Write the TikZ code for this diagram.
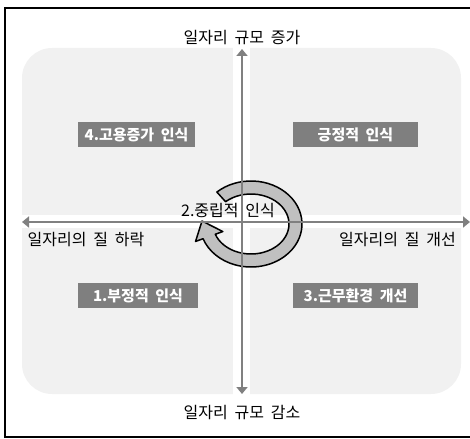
\documentclass[tikz,border=0pt]{standalone}
\usepackage{fontspec}
\setmainfont{Noto Sans CJK KR}[WordSpace=1.9]
\usetikzlibrary{arrows.meta}
\definecolor{panelbg}{RGB}{241,241,241}
\definecolor{axisgrey}{RGB}{128,128,128}
\definecolor{boxgrey}{RGB}{127,127,127}
\definecolor{ringfill}{RGB}{192,192,192}
\tikzset{
  axisarrow/.style={draw=axisgrey, line width=2.4pt, {Triangle[length=7pt,width=11pt]}-{Triangle[length=7pt,width=11pt]}},
  axislabel/.style={inner sep=0pt, font=\fontsize{16}{18}\selectfont, text=black},
  tagbox/.style={fill=boxgrey, text=white, inner sep=0pt, minimum height=25pt, font=\fontsize{15}{17}\selectfont\bfseries},
  ringstyle/.style={fill=ringfill, draw=black, line width=1.5pt, line join=round},
}
\begin{document}
\begin{tikzpicture}[x=1pt,y=-1pt]
\useasboundingbox (0,0) rectangle (470,438);
% outer frame
\draw[line width=2pt] (5,8) rectangle (490,437);
% panel background
\fill[panelbg, rounded corners=30pt] (22,48) rectangle (461,394);
\fill[white] (233,40) rectangle (250,402);
\fill[white] (14,215) rectangle (468,228);
% circular arrow
\begin{scope}[shift={(251,224)}]
\filldraw[ringstyle] (228:51 and 43) arc[start angle=228, end angle=520, x radius=51, y radius=43]
  -- (160:59 and 51) -- (-49,-3) -- (160:30 and 22) -- (160:38 and 30)
  arc[start angle=520, end angle=228, x radius=38, y radius=30] -- cycle;
\end{scope}
% axes
\coordinate (top) at (242,49);
\coordinate (bottom) at (242,394);
\coordinate (left) at (22,222);
\coordinate (right) at (470,222);
\draw[axisarrow] (bottom) -- (top);
\draw[axisarrow] (left) -- (right);
% labels
\node[axislabel] (ltop) at (242,38) {일자리 규모 증가};
\node[axislabel] (lbottom) at (242,413) {일자리 규모 감소};
\node[axislabel] (lleft) at (86,240) {일자리의 질 하락};
\node[axislabel] (lright) at (397.5,240) {일자리의 질 개선};
\node[axislabel] (lmid) at (228,211) {2.중립적 인식};
% tag boxes
\node[tagbox, minimum width=117pt] (q4) at (136.5,134.5) {4.고용증가 인식};
\node[tagbox, minimum width=125pt] (q1) at (355.5,134.5) {긍정적 인식};
\node[tagbox, minimum width=120pt] (q2) at (138,295.5) {1.부정적 인식};
\node[tagbox, minimum width=125pt] (q3) at (355.5,295.5) {3.근무환경 개선};
\end{tikzpicture}
\end{document}
